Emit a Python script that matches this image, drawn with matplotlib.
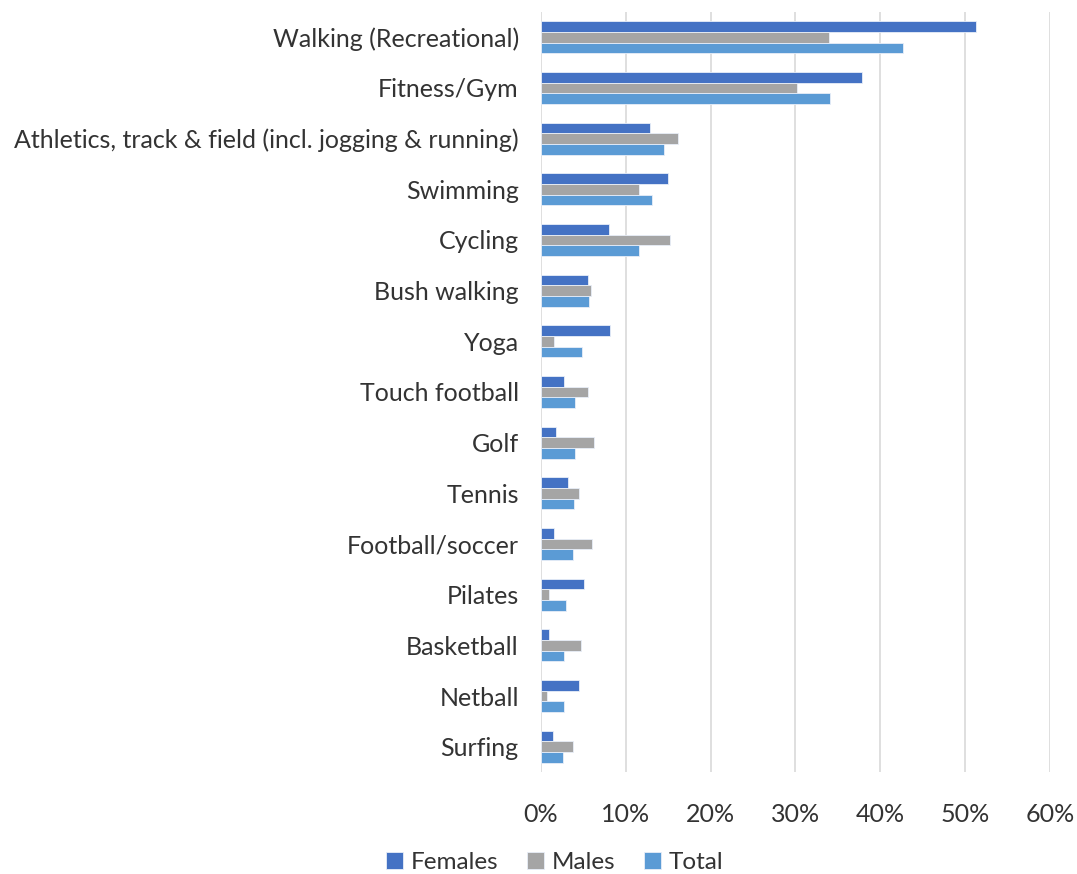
import numpy as np
import matplotlib
matplotlib.use('Agg')
import matplotlib.pyplot as plt
from matplotlib.ticker import PercentFormatter

# Participation in activities by sex (%)
activities = ['Walking (Recreational)', 'Fitness/Gym',
              'Athletics, track & field (incl. jogging & running)', 'Swimming',
              'Cycling', 'Bush walking', 'Yoga', 'Touch football', 'Golf',
              'Tennis', 'Football/soccer', 'Pilates', 'Basketball', 'Netball',
              'Surfing']
females = [51.3, 37.9, 12.8, 15.0, 8.0, 5.6, 8.1, 2.7, 1.8, 3.2, 1.5, 5.1, 0.9, 4.5, 1.4]
males = [34.0, 30.2, 16.1, 11.5, 15.2, 5.9, 1.5, 5.6, 6.3, 4.5, 6.0, 0.9, 4.7, 0.7, 3.8]
total = [42.7, 34.1, 14.5, 13.1, 11.6, 5.7, 4.8, 4.0, 4.0, 3.9, 3.8, 3.0, 2.7, 2.7, 2.6]

plt.rcParams['font.family'] = ['Lato', 'DejaVu Sans']

fig = plt.figure(figsize=(10.77, 8.74), dpi=100)
ax = fig.add_axes([0.5023, 0.1167, 0.4726, 0.8696])

y = np.arange(len(activities))
h = 0.21
series = [('Females', females, '#4472C4'),
          ('Males', males, '#A5A5A5'),
          ('Total', total, '#5B9BD5')]
for k, (name, vals, col) in enumerate(series):
    ax.barh(y + (k - 1) * h, vals, height=h, color=col, label=name,
            edgecolor='#e8eef8', linewidth=0.6, zorder=3)

ax.set_xlim(0, 60)
ax.set_ylim(len(activities) - 0.5, -0.5)
ax.set_xticks(range(0, 61, 10))
ax.xaxis.set_major_formatter(PercentFormatter(decimals=0))
ax.set_yticks(y)
ax.set_yticklabels(activities)

ax.grid(axis='x', color='#d9d9d9', linewidth=1.2, zorder=0)
for s in ax.spines.values():
    s.set_visible(False)
ax.tick_params(axis='both', length=0, labelsize=18, colors='#333333')
ax.tick_params(axis='x', pad=22)
ax.tick_params(axis='y', pad=16)

fig.legend(loc='center', bbox_to_anchor=(0.515, 0.013), ncol=3, frameon=False,
           fontsize=17.5, handlelength=0.7, handleheight=0.7,
           handletextpad=0.3, columnspacing=1.2, labelcolor='#333333')

fig.savefig('out.png', dpi=100)
